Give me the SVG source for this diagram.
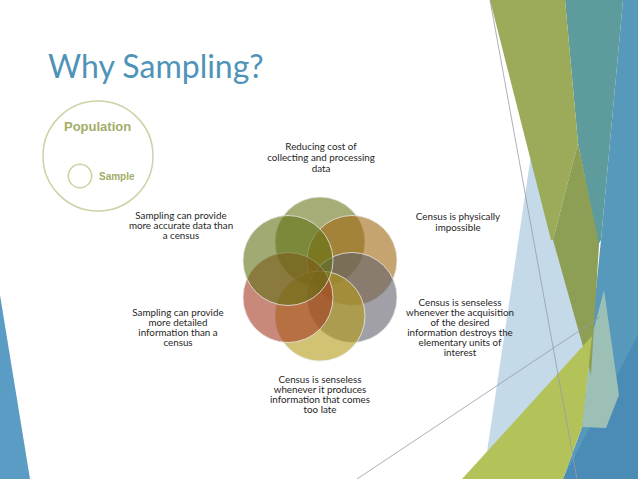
<svg xmlns="http://www.w3.org/2000/svg" width="638" height="479" viewBox="0 0 638 479">
<style>
.lbl{font-family:Lato,"Open Sans","DejaVu Sans",sans-serif;font-size:9.8px;fill:#262626;text-anchor:middle}
.c{stroke:#e8e8e8;stroke-width:1;stroke-opacity:0.8;fill-opacity:0.6}
.thin{stroke:#9a9aa6;stroke-width:0.8;fill:none}
</style>
<rect width="638" height="479" fill="#ffffff"/>
<g id="background">
<polygon points="0,295 30,479 0,479" fill="#5b9cc4"/>
<polygon points="623,0 638,0 638,479 563,479 582,427 601,240" fill="#5699bb"/>
<polygon points="565,0 623,0 601,240 598,245 578,143" fill="#5e9b9c"/>
<polygon points="531,155 556,240 591,375 560,479 483,479" fill="#c4dae8"/>
<polygon points="490,0 565,0 578,143 553,240 551,240" fill="#9bab59"/>
<polygon points="563,479 638,335 638,479" fill="#4a8cb6"/>
<polygon points="592,336 604,290 619,395 606,428 582,427" fill="#9cc0b5"/>
<polygon points="578,143 599,245 591,375 553,240" fill="#8d9e55"/>
<polygon points="592,336 582,427 563,479 462,479" fill="#b3c35a"/>
<line class="thin" x1="490" y1="0" x2="577" y2="479"/>
<line class="thin" x1="357" y1="479" x2="600" y2="317"/>
</g>
<text x="48" y="78" font-family="Lato,'Open Sans',sans-serif" font-size="32" fill="#4f94b8">Why Sampling?</text>
<g id="population">
<circle cx="98" cy="156" r="55" fill="none" stroke="#c9d3a5" stroke-width="1.5"/>
<text x="64" y="131" font-family="'Liberation Sans',Arial,sans-serif" font-weight="bold" font-size="13" fill="#9fae6a">Population</text>
</g>
<g id="sample">
<circle cx="80" cy="176" r="11.7" fill="none" stroke="#c9d3a5" stroke-width="1.5"/>
<text x="99" y="180" font-family="'Liberation Sans',Arial,sans-serif" font-weight="bold" font-size="10" fill="#9fae6a">Sample</text>
</g>
<g id="connectors"></g>
<g id="node-cost">
<circle class="c" cx="320" cy="242" r="45" fill="#6b761b"/>
<text class="lbl"><tspan x="321" y="150">Reducing cost of</tspan><tspan x="321" y="161">collecting and processing</tspan><tspan x="321" y="172">data</tspan></text>
</g>
<g id="node-impossible">
<circle class="c" cx="352" cy="260.5" r="45" fill="#a06711"/>
<text class="lbl"><tspan x="458" y="220">Census is physically</tspan><tspan x="458" y="230.5">impossible</tspan></text>
</g>
<g id="node-destroys">
<circle class="c" cx="352" cy="297.5" r="45" fill="#61616b"/>
<text class="lbl"><tspan x="460" y="306">Census is senseless</tspan><tspan x="460" y="316">whenever the acquisition</tspan><tspan x="460" y="326">of the desired</tspan><tspan x="460" y="336">information destroys the</tspan><tspan x="460" y="346">elementary units of</tspan><tspan x="460" y="356">interest</tspan></text>
</g>
<g id="node-late">
<circle class="c" cx="320" cy="316" r="45" fill="#b49917"/>
<text class="lbl"><tspan x="320" y="383">Census is senseless</tspan><tspan x="320" y="393">whenever it produces</tspan><tspan x="320" y="403">information that comes</tspan><tspan x="320" y="413">too late</tspan></text>
</g>
<g id="node-detailed">
<circle class="c" cx="288" cy="297.5" r="45" fill="#a33921"/>
<text class="lbl"><tspan x="178" y="316">Sampling can provide</tspan><tspan x="178" y="326">more detailed</tspan><tspan x="178" y="336">information than a</tspan><tspan x="178" y="346">census</tspan></text>
</g>
<g id="node-accurate">
<circle class="c" cx="288" cy="260.5" r="45" fill="#617114"/>
<text class="lbl"><tspan x="181" y="219">Sampling can provide</tspan><tspan x="181" y="229">more accurate data than</tspan><tspan x="181" y="239">a census</tspan></text>
</g>
</svg>
